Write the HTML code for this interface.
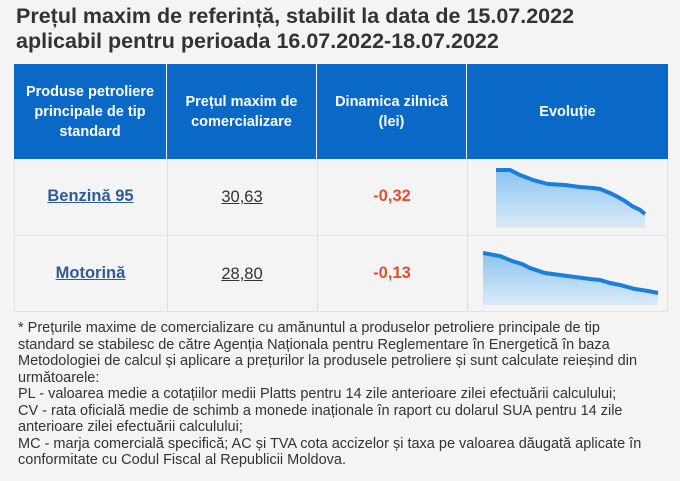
<!DOCTYPE html>
<html><head><meta charset="utf-8"><style>
body{margin:0;width:680px;height:481px;background:#f4f4f4;font-family:"Liberation Sans",sans-serif;position:relative;overflow:hidden;color:#333}
.a{position:absolute}
.t{left:16px;font-size:21.5px;font-weight:bold;color:#333;white-space:nowrap}
.h{background:#0a69c7;top:64px;height:95px;color:#fff;font-weight:bold;font-size:14.5px;text-align:center;display:flex;align-items:center;justify-content:center;line-height:20px}
.vl{width:1px;background:#e0e0e0}
.c{text-align:center;font-size:16.5px}
.f{left:18px;font-size:14.5px;white-space:nowrap;color:#333}
</style></head><body>
<div class="a t" style="top:4px">Prețul maxim de referință, stabilit la data de 15.07.2022</div>
<div class="a t" style="top:29px">aplicabil pentru perioada 16.07.2022-18.07.2022</div>
<div class="a h" style="left:14px;width:152px">Produse petroliere<br>principale de tip<br>standard</div>
<div class="a h" style="left:167px;width:149px">Prețul maxim de<br>comercializare</div>
<div class="a h" style="left:317px;width:149px">Dinamica zilnică<br>(lei)</div>
<div class="a h" style="left:467px;width:201px">Evoluție</div>
<div class="a" style="left:14px;top:159px;width:654px;height:153px;border:1px solid #e2e2e2;border-top:none;box-sizing:border-box"></div>
<div class="a" style="left:14px;top:235px;width:654px;height:1px;background:#e6e6e6"></div>
<div class="a vl" style="left:167px;top:159px;height:153px"></div>
<div class="a vl" style="left:317px;top:159px;height:153px"></div>
<div class="a vl" style="left:467px;top:159px;height:153px"></div>
<div class="a c" style="left:14px;width:153px;top:187px;font-weight:bold;color:#2d5c99;text-decoration:underline">Benzină 95</div>
<div class="a c" style="left:14px;width:153px;top:264px;font-weight:bold;color:#2d5c99;text-decoration:underline">Motorină</div>
<div class="a c" style="left:167px;width:150px;top:188px;text-decoration:underline">30,63</div>
<div class="a c" style="left:167px;width:150px;top:265px;text-decoration:underline">28,80</div>
<div class="a c" style="left:317px;width:150px;top:187px;font-weight:bold;color:#e0502e">-0,32</div>
<div class="a c" style="left:317px;width:150px;top:264px;font-weight:bold;color:#e0502e">-0,13</div>
<svg class="a" style="left:0;top:0" width="680" height="481">
<defs><linearGradient id="g" x1="0" y1="0" x2="0" y2="1"><stop offset="0" stop-color="#8cc4f0"/><stop offset="1" stop-color="#dbeaf8"/></linearGradient></defs>
<path d="M496,170 L510,170 L520,175 L533,180 L548,184 L565,185 L580,187 L593,188 L600,189 L610,193 L618,197 L625,201 L632,206 L640,210 L645,214 L645,228 L496,228Z" fill="url(#g)"/>
<polyline points="496,170 510,170 520,175 533,180 548,184 565,185 580,187 593,188 600,189 610,193 618,197 625,201 632,206 640,210 645,214" fill="none" stroke="#1a7fd8" stroke-width="4"/>
<path d="M483,253 L500,256 L512,261 L522,264 L530,268 L545,273 L560,275 L575,277 L590,279 L600,280 L610,283 L620,285 L635,289 L648,291 L658,293 L658,305 L483,305Z" fill="url(#g)"/>
<polyline points="483,253 500,256 512,261 522,264 530,268 545,273 560,275 575,277 590,279 600,280 610,283 620,285 635,289 648,291 658,293" fill="none" stroke="#1a7fd8" stroke-width="4"/>
</svg>
<div class="a f" style="top:320px">* Prețurile maxime de comercializare cu amănuntul a produselor petroliere principale de tip</div>
<div class="a f" style="top:336.5px">standard se stabilesc de către Agenția Naționala pentru Reglementare în Energetică în baza</div>
<div class="a f" style="top:353px">Metodologiei de calcul și aplicare a prețurilor la produsele petroliere și sunt calculate reieșind din</div>
<div class="a f" style="top:369.5px">următoarele:</div>
<div class="a f" style="top:386px">PL - valoarea medie a cotațiilor medii Platts pentru 14 zile anterioare zilei efectuării calculului;</div>
<div class="a f" style="top:402.5px">CV - rata oficială medie de schimb a monede inaționale în raport cu dolarul SUA pentru 14 zile</div>
<div class="a f" style="top:419px">anterioare zilei efectuării calculului;</div>
<div class="a f" style="top:435.5px">MC - marja comercială specifică; AC și TVA cota accizelor și taxa pe valoarea dăugată aplicate în</div>
<div class="a f" style="top:452px">conformitate cu Codul Fiscal al Republicii Moldova.</div>
</body></html>
